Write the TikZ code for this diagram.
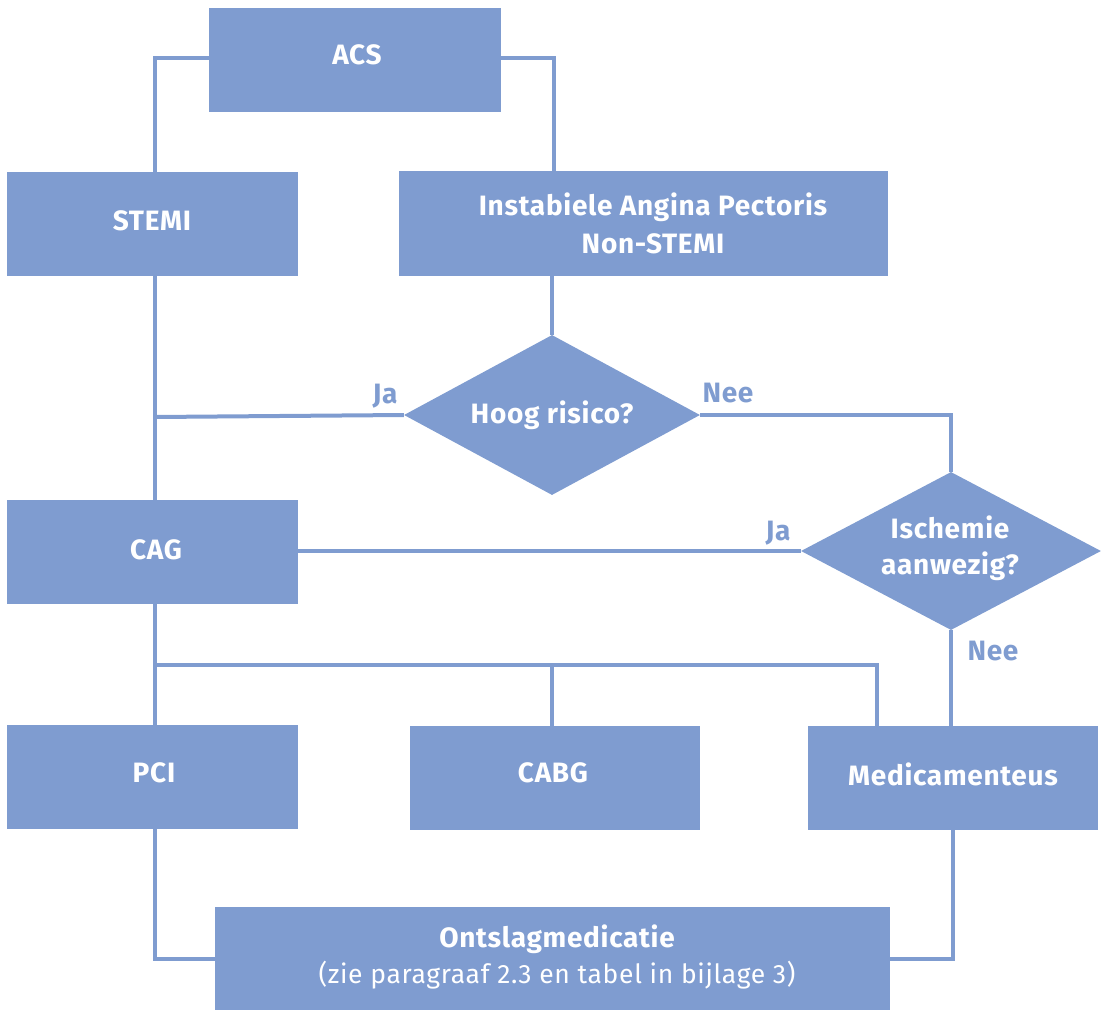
\documentclass[tikz,border=0pt]{standalone}
\usepackage{fontspec}
\setmainfont{Fira Sans}[LetterSpace=2.5]
\usetikzlibrary{shapes.geometric}
\definecolor{fc}{RGB}{127,156,208}
\tikzset{
  box/.style={fill=fc, draw=none, text=white, font=\fontsize{28}{38}\selectfont\bfseries, align=center, inner sep=0pt},
  dec/.style={diamond, fill=fc, draw=none, inner sep=0pt},
  conn/.style={draw=fc, line width=4pt},
  lab/.style={text=fc, font=\fontsize{28}{30}\selectfont\bfseries, inner sep=0pt}
}
\begin{document}
\begin{tikzpicture}[x=1pt,y=-1pt]
\useasboundingbox (0,0) rectangle (1103,1011);
% shapes
\node[box, minimum width=292pt, minimum height=104pt] (acs) at (355,60) {};
\node[box, minimum width=291pt, minimum height=104pt] (stemi) at (152.5,224) {};
\node[box, minimum width=489pt, minimum height=104pt] (iap) at (643.5,223.5) {};
\node[dec, minimum width=296pt, minimum height=160pt, aspect=1.85] (hr) at (552,415) {};
\node[dec, minimum width=300pt, minimum height=158pt, aspect=1.9] (isch) at (951,551) {};
\node[box, minimum width=291pt, minimum height=104pt] (cag) at (152.5,552) {};
\node[box, minimum width=291pt, minimum height=104pt] (pci) at (152.5,777) {};
\node[box, minimum width=290pt, minimum height=104pt] (cabg) at (555,778) {};
\node[box, minimum width=290pt, minimum height=104pt] (med) at (953,778) {};
\node[box, minimum width=675pt, minimum height=103pt] (ont) at (552.5,958.5) {};
% connectors
\coordinate (j1) at (155,417);
\coordinate (j2) at (155,665);
\coordinate (a1) at (155,58);
\coordinate (a2) at (554,58);
\draw[conn] (acs.west |- a1) -- (a1) -- (a1 |- stemi.north);
\draw[conn] (acs.east |- a2) -- (a2) -- (a2 |- iap.north);
\draw[conn] (j1 |- stemi.south) -- (j1 |- cag.north);
\draw[conn] (hr.west) -- (j1);
\draw[conn] (hr.north |- iap.south) -- (hr.north);
\draw[conn] (hr.east) -| (isch.north);
\draw[conn] (cag.east |- isch.west) -- (isch.west);
\draw[conn] (isch.south) -- (isch.south |- med.north);
\draw[conn] (j2 |- cag.south) -- (j2 |- pci.north);
\draw[conn] (j2) -- (877,665) -- (877,726);
\draw[conn] (552,665) -- (552,726);
\draw[conn] (j2 |- pci.south) |- (ont.west);
\draw[conn] (med.south) |- (ont.east);
% texts
\node[box] (acst) at (357,55) {ACS};
\node[box] (stemit) at (152,221) {STEMI};
\node[box] (iapt) at (653,223) {Instabiele Angina Pectoris\\Non-STEMI};
\node[box] (hrt) at (552,415) {Hoog risico?};
\node[box, font=\fontsize{28}{36}\selectfont\bfseries] (ischt) at (950,548) {Ischemie\\aanwezig?};
\node[box, font=\fontsize{28}{36}\selectfont\bfseries] (cagt) at (156,550) {CAG};
\node[box] (pcit) at (154,773) {PCI};
\node[box] (cabgt) at (553,773) {CABG};
\node[box] (medt) at (953,774) {Medicamenteus};
\node[box, font=\fontsize{28}{36}\selectfont\bfseries] (ontt) at (557,957) {Ontslagmedicatie\\{\mdseries\fontsize{26.5}{36}\selectfont (zie paragraaf 2.3 en tabel in bijlage 3)}};
% labels
\node[lab] (l1) at (385,396) {Ja};
\node[lab] (l2) at (728,393) {Nee};
\node[lab] (l3) at (778,533) {Ja};
\node[lab] (l4) at (993,651) {Nee};
\end{tikzpicture}
\end{document}
